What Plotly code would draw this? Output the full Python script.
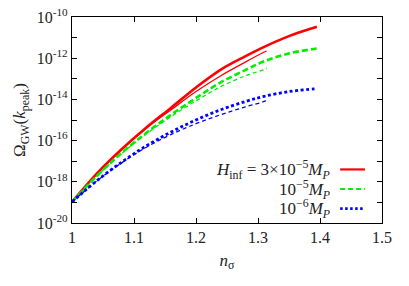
import plotly.graph_objects as go

# ---- data ----
n_long = [1.00, 1.04, 1.08, 1.12, 1.16, 1.20, 1.24, 1.28, 1.31, 1.35, 1.39, 1.395]
n_short = [1.00, 1.04, 1.08, 1.12, 1.16, 1.20, 1.24, 1.28, 1.31, 1.314]

log_red_long = [-18.98, -17.60, -16.42, -15.36, -14.40, -13.42, -12.55, -11.90, -11.45, -10.93, -10.52, -10.47]
log_red_short = [-18.98, -17.60, -16.43, -15.40, -14.50, -13.62, -12.85, -12.18, -11.70, -11.65]
log_green_long = [-18.98, -17.72, -16.60, -15.62, -14.74, -13.93, -13.17, -12.57, -12.15, -11.77, -11.55, -11.53]
log_green_short = [-18.98, -17.73, -16.63, -15.67, -14.83, -14.07, -13.38, -12.85, -12.55, -12.49]
log_blue_long = [-18.98, -17.95, -17.05, -16.25, -15.58, -15.00, -14.50, -14.10, -13.85, -13.62, -13.49, -13.47]
log_blue_short = [-18.98, -17.96, -17.08, -16.32, -15.70, -15.18, -14.74, -14.36, -14.10, -14.03]

x_ticks = [1.0, 1.1, 1.2, 1.3, 1.4, 1.5]
x_ticktext = ["1", "1.1", "1.2", "1.3", "1.4", "1.5"]
y_exps = list(range(-20, -9))
y_ticktext = [f"10<sup>{e}</sup>" if e % 2 == 0 else "" for e in y_exps]

legend_labels = [
    "<i>H</i><sub>inf</sub> = 3×10<sup>−5</sup><i>M</i><sub><i>P</i></sub>",
    "10<sup>−5</sup><i>M</i><sub><i>P</i></sub>",
    "10<sup>−6</sup><i>M</i><sub><i>P</i></sub>",
]
RED, GREEN, BLUE = "#ff0000", "#00ee00", "#0000ff"

def pw(v):
    return [10 ** e for e in v]

fig = go.Figure()
series = [
    (n_long, log_red_long, RED, 2.6, "solid"),
    (n_short, log_red_short, RED, 1.3, "solid"),
    (n_long, log_green_long, GREEN, 2.6, "6px,3px"),
    (n_short, log_green_short, GREEN, 1.3, "4px,3px"),
    (n_long, log_blue_long, BLUE, 2.8, "3px,2.5px"),
    (n_short, log_blue_short, BLUE, 1.3, "4px,3px"),
]
for xs, ys, c, w, d in series:
    fig.add_trace(go.Scatter(x=xs, y=pw(ys), mode="lines", showlegend=False, hoverinfo="skip",
                             line=dict(color=c, width=w, dash=d, shape="spline", smoothing=1.0)))

font_family = "Liberation Serif"
txt_color = "#222"

# legend drawn manually (text right-aligned, sample to the right)
leg_y = [0.26, 0.165, 0.07]
leg_styles = [(RED, "solid", 2.2), (GREEN, "5px,3px", 2.2), (BLUE, "2.5px,2.5px", 2.6)]
for lab, yy, (c, d, w) in zip(legend_labels, leg_y, leg_styles):
    fig.add_annotation(x=0.838, y=yy, xref="paper", yref="paper", text=lab, showarrow=False,
                       xanchor="right", yanchor="middle", font=dict(size=17, family=font_family, color=txt_color))
    fig.add_shape(type="line", xref="paper", yref="paper", x0=0.865, x1=0.945, y0=yy, y1=yy,
                  line=dict(color=c, width=w, dash=d))

axis_common = dict(showline=True, linecolor="black", linewidth=1.4, mirror="ticks",
                   ticks="inside", ticklen=5, tickwidth=1, tickcolor="black",
                   showgrid=False, zeroline=False, automargin=False,
                   tickfont=dict(size=16, family=font_family, color=txt_color))

fig.update_xaxes(range=[1.0, 1.5], tickvals=x_ticks, ticktext=x_ticktext,
                 title=dict(text="<i>n</i><sub>σ</sub>", font=dict(size=17, family=font_family, color=txt_color), standoff=8),
                 **axis_common)
fig.update_yaxes(type="log", range=[-20, -10], tickvals=pw(y_exps), ticktext=y_ticktext,
                 title=dict(text="Ω<sub>GW</sub>(<i>k</i><sub>peak</sub>)", font=dict(size=17, family=font_family, color=txt_color), standoff=6),
                 **axis_common)

fig.update_layout(width=409, height=286, margin=dict(l=72, r=27, t=17, b=63, autoexpand=False),
                  plot_bgcolor="white", paper_bgcolor="white", showlegend=False)

fig.write_html("out.html", config={"displayModeBar": False},
               post_script="document.body.style.margin='0';document.body.style.overflow='hidden';")
